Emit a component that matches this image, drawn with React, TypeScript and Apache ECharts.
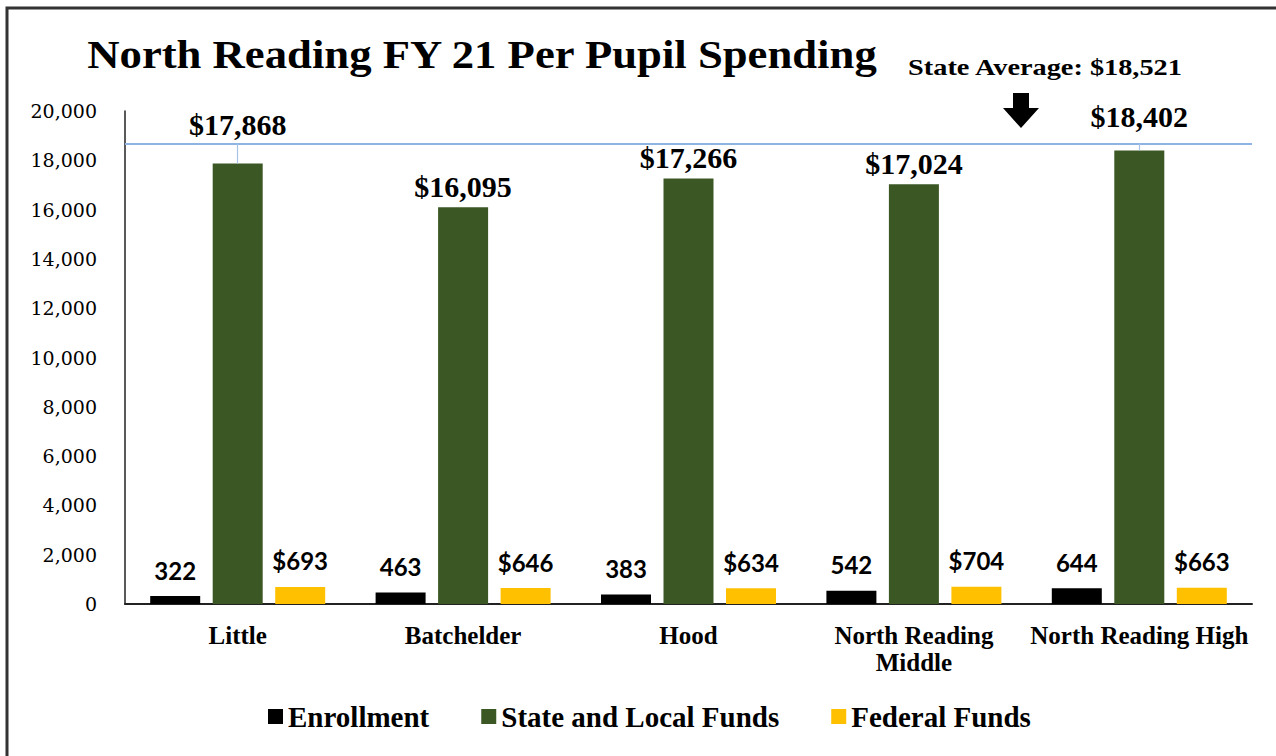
import React, { useEffect, useRef } from "react";
import * as echarts from "echarts";

const categories = ["Little", "Batchelder", "Hood", "North Reading\nMiddle", "North Reading High"];
const enrollment = [322, 463, 383, 542, 644];
const stateLocalFunds = [17868, 16095, 17266, 17024, 18402];
const federalFunds = [693, 646, 634, 704, 663];
const yTicks = [0, 2000, 4000, 6000, 8000, 10000, 12000, 14000, 16000, 18000, 20000];
const stateAverageLabel = "State Average: $18,521";
const stateAverageLineValue = 18680; // drawn position of the reference line
const leaderCategories = [0, 4];

const SERIF = "'Liberation Serif', 'DejaVu Serif', serif";
const SANS = "Lato, 'Open Sans', sans-serif";

const fmtMoney = (v: number) => "$" + v.toLocaleString("en-US");

export default function App() {
  const ref = useRef<HTMLDivElement>(null);
  useEffect(() => {
    if (!ref.current) return;
    const chart = echarts.init(ref.current, null, { renderer: "svg" });
    const greenDistances = stateLocalFunds.map((_, i) => (i === 0 ? 24 : i === 4 ? 19 : 6));
    chart.setOption({
      animation: false,
      backgroundColor: "#ffffff",
      grid: { left: 125, right: 24, top: 111, bottom: 152, containLabel: false },
      legend: {
        bottom: 20,
        left: 263,
        itemWidth: 15,
        itemHeight: 15,
        itemGap: 52,
        itemTextGap: 6,
        icon: "rect",
        textStyle: { fontFamily: SERIF, fontWeight: "bold", fontSize: 29, color: "#000" },
        data: ["Enrollment", "State and Local Funds", "Federal Funds"],
      },
      xAxis: {
        type: "category",
        data: categories,
        axisLine: { show: true, lineStyle: { color: "#222", width: 2 } },
        axisTick: { show: false },
        axisLabel: {
          fontFamily: SERIF,
          fontWeight: "bold",
          fontSize: 25,
          color: "#000",
          margin: 18,
          lineHeight: 27,
          interval: 0,
        },
      },
      yAxis: {
        type: "value",
        min: 0,
        max: 20000,
        interval: 2000,
        splitLine: { show: false },
        axisLine: { show: true, lineStyle: { color: "#222", width: 1.5 } },
        axisTick: { show: false },
        axisLabel: {
          fontFamily: "'DejaVu Serif', serif",
          fontSize: 19,
          color: "#000",
          margin: 28,
          formatter: (v: number) => (yTicks.includes(v) ? v.toLocaleString("en-US") : ""),
        },
      },
      series: [
        {
          name: "Enrollment",
          type: "bar",
          barWidth: 50,
          barGap: "25%",
          itemStyle: { color: "#000000" },
          data: enrollment,
          label: {
            show: true,
            position: "top",
            distance: 14,
            fontFamily: SANS,
            fontWeight: "bold",
            fontSize: 24,
            color: "#000",
          },
        },
        {
          name: "State and Local Funds",
          type: "bar",
          barWidth: 50,
          barGap: "25%",
          itemStyle: { color: "#3A5724" },
          data: stateLocalFunds.map((v, i) => ({
            value: v,
            label: { distance: greenDistances[i] },
          })),
          label: {
            show: true,
            position: "top",
            fontFamily: SERIF,
            fontWeight: "bold",
            fontSize: 30,
            color: "#000",
            formatter: (p: any) => fmtMoney(p.value),
          },
          markLine: {
            silent: true,
            symbol: "none",
            label: { show: false },
            lineStyle: { color: "#8DB4E2", width: 2, type: "solid" },
            data: [
              { yAxis: stateAverageLineValue },
              ...leaderCategories.map((i) => [
                { coord: [categories[i], stateAverageLineValue], lineStyle: { width: 1.2, color: "#A6C3E6" } },
                { coord: [categories[i], stateLocalFunds[i]] },
              ]),
            ],
          },
        },
        {
          name: "Federal Funds",
          type: "bar",
          barWidth: 50,
          barGap: "25%",
          itemStyle: { color: "#FFC000" },
          data: federalFunds,
          label: {
            show: true,
            position: "top",
            distance: 14,
            fontFamily: SANS,
            fontWeight: "bold",
            fontSize: 24,
            color: "#000",
            formatter: (p: any) => fmtMoney(p.value),
          },
        },
      ],
      graphic: [
        {
          type: "rect",
          shape: { x: 7, y: 8, width: 1290, height: 770 },
          style: { fill: "none", stroke: "#333", lineWidth: 3 },
          silent: true,
        },
        {
          type: "text",
          x: 482,
          y: 54,
          scaleX: 1.09,
          style: {
            text: "North Reading FY 21 Per Pupil Spending",
            fontFamily: SERIF,
            fontWeight: "bold",
            fontSize: 41,
            fill: "#000",
            align: "center",
            verticalAlign: "middle",
          },
        },
        {
          type: "text",
          x: 1045,
          y: 67,
          scaleX: 1.18,
          style: {
            text: stateAverageLabel,
            fontFamily: SERIF,
            fontWeight: "bold",
            fontSize: 24,
            fill: "#000",
            align: "center",
            verticalAlign: "middle",
          },
        },
        {
          type: "polygon",
          shape: {
            points: [
              [1013, 93],
              [1029, 93],
              [1029, 108],
              [1039, 108],
              [1021, 128],
              [1003, 108],
              [1013, 108],
            ],
          },
          style: { fill: "#000" },
        },
      ],
    });
    return () => chart.dispose();
  }, []);
  return (
    <div style={{ position: "fixed", left: 0, top: 0, width: 1276, height: 756 }}>
      <div ref={ref} style={{ width: 1276, height: 756 }} />
    </div>
  );
}
